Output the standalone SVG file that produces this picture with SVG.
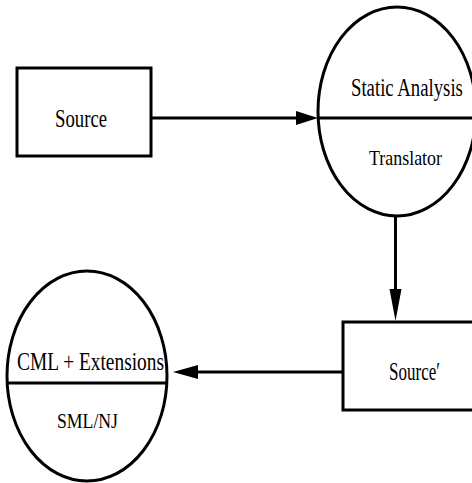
<svg xmlns="http://www.w3.org/2000/svg" width="472" height="483" viewBox="0 0 472 483">
  <style>
    .shape { fill: #ffffff; stroke: #000000; stroke-width: 3; }
    .rule { stroke: #000000; stroke-width: 3; fill: none; }
    .edge { stroke: #000000; stroke-width: 3; fill: none; }
    .head { fill: #000000; stroke: none; }
    .label { font-family: "Liberation Serif", "Times New Roman", serif; fill: #000000; }
    .big { font-size: 25px; }
    .small { font-size: 21px; }
  </style>
  <rect width="472" height="483" fill="#ffffff"/>

  <g id="connectors">
    <line class="edge" x1="151" y1="118" x2="298" y2="118"/>
    <polygon class="head" points="296,111 318,118 296,125"/>
    <line class="edge" x1="395.5" y1="216" x2="395.5" y2="291"/>
    <polygon class="head" points="389.5,289 401.5,289 395.5,321"/>
    <line class="edge" x1="343" y1="372" x2="197" y2="372"/>
    <polygon class="head" points="198,365 198,379 173,372"/>
  </g>

  <g id="source">
    <rect class="shape" x="17" y="68" width="134" height="88"/>
    <text class="label big" x="55" y="127" textLength="52" lengthAdjust="spacingAndGlyphs">Source</text>
  </g>

  <g id="static-analysis">
    <ellipse class="shape" cx="397" cy="111.5" rx="79" ry="104.5"/>
    <line class="rule" x1="318" y1="118" x2="476" y2="118"/>
    <!-- condensed horizontally to fit inside the ellipse -->
    <text class="label big" transform="translate(351,96) scale(0.75,1)">Static Analysis</text>
    <text class="label small" x="369" y="165" textLength="73" lengthAdjust="spacingAndGlyphs">Translator</text>
  </g>

  <g id="source-prime">
    <rect class="shape" x="343" y="322" width="140" height="88"/>
    <text class="label big" x="389" y="380" textLength="51" lengthAdjust="spacingAndGlyphs">Source′</text>
  </g>

  <g id="cml">
    <ellipse class="shape" cx="87" cy="376" rx="80" ry="105"/>
    <line class="rule" x1="7" y1="383" x2="167" y2="383"/>
    <text class="label big" x="17" y="370" textLength="147" lengthAdjust="spacingAndGlyphs">CML + Extensions</text>
    <text class="label small" x="57" y="428" textLength="61" lengthAdjust="spacingAndGlyphs">SML/NJ</text>
  </g>
</svg>
